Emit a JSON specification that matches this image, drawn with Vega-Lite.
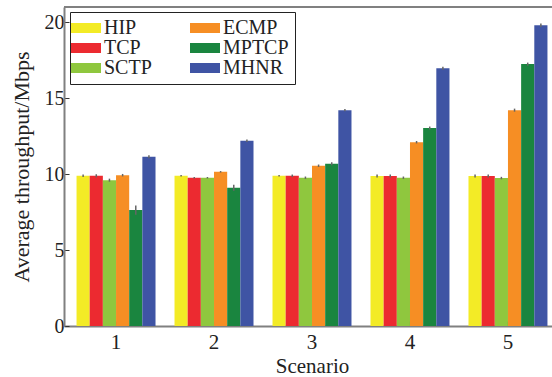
{
  "$schema": "https://vega.github.io/schema/vega-lite/v6.json",
  "width": 488,
  "height": 319,
  "autosize": "none",
  "padding": {"left": 64, "top": 7, "right": 0, "bottom": 51},
  "config": {
    "view": {"stroke": null},
    "font": "Liberation Serif",
    "axis": {
      "domainColor": "#808080",
      "domainWidth": 2,
      "tickColor": "#333333",
      "tickWidth": 1,
      "tickSize": -5,
      "labelFontSize": 20,
      "labelColor": "#222222",
      "titleFontSize": 21,
      "titleFontWeight": "normal",
      "titleColor": "#222222",
      "grid": false
    }
  },
  "data": {
    "values": [
      {"scenario": "1", "protocol": "HIP", "value": 9.89, "err": 0.08},
      {"scenario": "1", "protocol": "TCP", "value": 9.89, "err": 0.1},
      {"scenario": "1", "protocol": "SCTP", "value": 9.6, "err": 0.1},
      {"scenario": "1", "protocol": "ECMP", "value": 9.93, "err": 0.08},
      {"scenario": "1", "protocol": "MPTCP", "value": 7.63, "err": 0.3},
      {"scenario": "1", "protocol": "MHNR", "value": 11.14, "err": 0.1},
      {"scenario": "2", "protocol": "HIP", "value": 9.89, "err": 0.05},
      {"scenario": "2", "protocol": "TCP", "value": 9.76, "err": 0.05},
      {"scenario": "2", "protocol": "SCTP", "value": 9.76, "err": 0.05},
      {"scenario": "2", "protocol": "ECMP", "value": 10.15, "err": 0.05},
      {"scenario": "2", "protocol": "MPTCP", "value": 9.1, "err": 0.2},
      {"scenario": "2", "protocol": "MHNR", "value": 12.19, "err": 0.08},
      {"scenario": "3", "protocol": "HIP", "value": 9.89, "err": 0.05},
      {"scenario": "3", "protocol": "TCP", "value": 9.89, "err": 0.08},
      {"scenario": "3", "protocol": "SCTP", "value": 9.76, "err": 0.08},
      {"scenario": "3", "protocol": "ECMP", "value": 10.55, "err": 0.08},
      {"scenario": "3", "protocol": "MPTCP", "value": 10.68, "err": 0.1},
      {"scenario": "3", "protocol": "MHNR", "value": 14.21, "err": 0.08},
      {"scenario": "4", "protocol": "HIP", "value": 9.87, "err": 0.1},
      {"scenario": "4", "protocol": "TCP", "value": 9.87, "err": 0.1},
      {"scenario": "4", "protocol": "SCTP", "value": 9.76, "err": 0.08},
      {"scenario": "4", "protocol": "ECMP", "value": 12.1, "err": 0.08},
      {"scenario": "4", "protocol": "MPTCP", "value": 13.03, "err": 0.1},
      {"scenario": "4", "protocol": "MHNR", "value": 16.97, "err": 0.1},
      {"scenario": "5", "protocol": "HIP", "value": 9.87, "err": 0.1},
      {"scenario": "5", "protocol": "TCP", "value": 9.87, "err": 0.1},
      {"scenario": "5", "protocol": "SCTP", "value": 9.74, "err": 0.08},
      {"scenario": "5", "protocol": "ECMP", "value": 14.21, "err": 0.1},
      {"scenario": "5", "protocol": "MPTCP", "value": 17.24, "err": 0.1},
      {"scenario": "5", "protocol": "MHNR", "value": 19.8, "err": 0.12}
    ]
  },
  "encoding": {
    "x": {
      "field": "scenario",
      "type": "ordinal",
      "scale": {"range": [0, 496], "paddingInner": 0.194, "paddingOuter": 0.128},
      "axis": {"title": "Scenario", "labelAngle": 0, "labelFontSize": 21, "labelPadding": 10, "titlePadding": 3}
    },
    "xOffset": {
      "field": "protocol",
      "type": "nominal",
      "sort": ["HIP", "TCP", "SCTP", "ECMP", "MPTCP", "MHNR"],
      "scale": {"paddingInner": 0, "paddingOuter": 0}
    }
  },
  "layer": [
    {
      "mark": {"type": "bar"},
      "encoding": {
        "y": {
          "field": "value",
          "type": "quantitative",
          "scale": {"domain": [0, 21], "nice": false},
          "axis": {"title": "Average throughput/Mbps", "titleFontSize": 22, "values": [0, 5, 10, 15, 20], "labelPadding": 5, "titlePadding": 11}
        },
        "color": {
          "field": "protocol",
          "type": "nominal",
          "scale": {
            "domain": ["HIP", "ECMP", "TCP", "MPTCP", "SCTP", "MHNR"],
            "range": ["#F3EB26", "#F68E24", "#EC2A30", "#1A853F", "#8FC73E", "#3F54A4"]
          },
          "legend": {
            "title": null,
            "orient": "none",
            "legendX": 6,
            "legendY": 5,
            "columns": 2,
            "direction": "horizontal",
            "symbolType": "M-2,-0.67H2V0.67H-2Z",
            "symbolSize": 225,
            "symbolStrokeWidth": 0,
            "labelFontSize": 20,
            "labelColor": "#222222",
            "labelOffset": 8,
            "columnPadding": 38,
            "rowPadding": 0,
            "padding": 6,
            "strokeColor": "#222222",
            "fillColor": "white"
          }
        }
      }
    },
    {
      "mark": {"type": "rule", "color": "#666666", "strokeWidth": 1.5},
      "encoding": {
        "y": {"field": "low", "type": "quantitative"},
        "y2": {"field": "high"}
      },
      "transform": [
        {"calculate": "datum.value - datum.err", "as": "low"},
        {"calculate": "datum.value + datum.err", "as": "high"}
      ]
    },
    {
      "mark": {"type": "rule", "color": "#808080", "strokeWidth": 2},
      "encoding": {"y": {"datum": 21}, "x": null, "xOffset": null}
    }
  ]
}
